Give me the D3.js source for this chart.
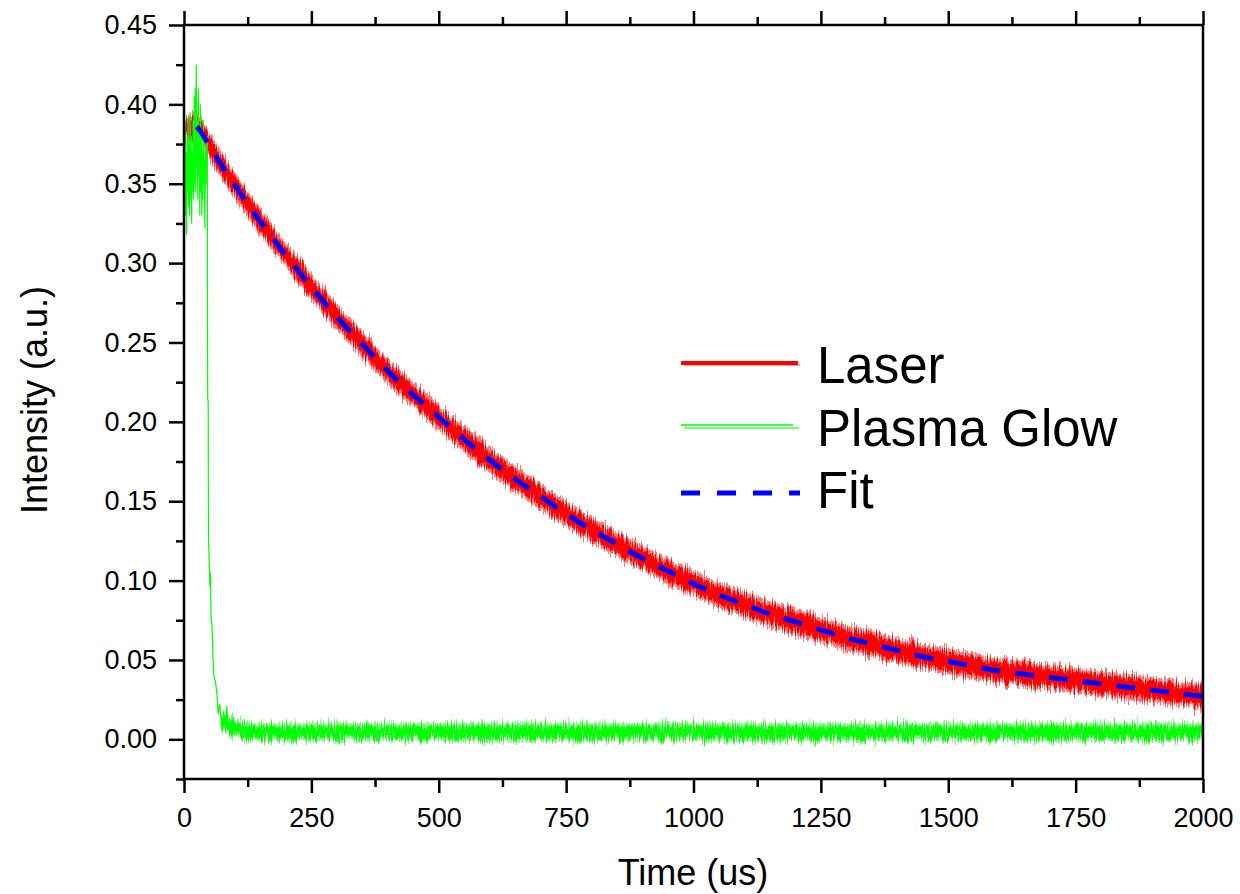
<!DOCTYPE html>
<html>
<head>
<meta charset="utf-8">
<script src="https://cdn.jsdelivr.net/npm/d3@7"></script>
<style>
  html, body { margin: 0; padding: 0; background: #fff; }
  svg { display: block; font-family: "Liberation Sans", Arial, Helvetica, sans-serif; }
</style>
</head>
<body>
<svg id="chart" width="1240" height="894"></svg>
<script>
// ---------- axis ticks ----------
const xTicks = [0, 250, 500, 750, 1000, 1250, 1500, 1750, 2000];
const xMinorTicks = [125, 375, 625, 875, 1125, 1375, 1625, 1875];
const yTicks = [0, 0.05, 0.10, 0.15, 0.20, 0.25, 0.30, 0.35, 0.40, 0.45];
const yMinorTicks = [-0.025, 0.025, 0.075, 0.125, 0.175, 0.225, 0.275, 0.325, 0.375, 0.425];

// ---------- Laser signal: centre of the noisy trace (time in us) ----------
const laserTime = [0, 10, 20, 30, 50, 75, 100, 150, 200, 250, 300, 350, 400, 450, 500,
  550, 600, 650, 700, 750, 800, 850, 900, 950, 1000, 1050, 1100, 1150, 1200, 1250,
  1300, 1350, 1400, 1450, 1500, 1550, 1600, 1650, 1700, 1750, 1800, 1850, 1900, 1950, 2000];
const laserLevel = [0.383, 0.384, 0.384, 0.384, 0.374, 0.361, 0.349, 0.326, 0.305, 0.285,
  0.266, 0.249, 0.232, 0.217, 0.203, 0.189, 0.176, 0.164, 0.153, 0.142, 0.132, 0.123,
  0.114, 0.106, 0.098, 0.091, 0.085, 0.079, 0.074, 0.069, 0.064, 0.060, 0.056, 0.052,
  0.049, 0.046, 0.043, 0.041, 0.039, 0.037, 0.035, 0.033, 0.031, 0.029, 0.027];
// noise half-width of the trace: dense core and outer spikes
const laserCoreNoise = 0.0055;
const laserPeakNoise = 0.0080;

// ---------- exponential fit ----------
const fitTime = [25, 30, 50, 75, 100, 150, 200, 250, 300, 350, 400, 450, 500,
  550, 600, 650, 700, 750, 800, 850, 900, 950, 1000, 1050, 1100, 1150, 1200, 1250,
  1300, 1350, 1400, 1450, 1500, 1550, 1600, 1650, 1700, 1750, 1800, 1850, 1900, 1950, 2000];
const fitValue = [0.386, 0.384, 0.374, 0.361, 0.349, 0.326, 0.305, 0.285,
  0.266, 0.249, 0.232, 0.217, 0.203, 0.189, 0.176, 0.164, 0.153, 0.142, 0.132, 0.123,
  0.114, 0.106, 0.098, 0.091, 0.085, 0.079, 0.074, 0.069, 0.064, 0.060, 0.056, 0.052,
  0.049, 0.046, 0.043, 0.041, 0.039, 0.037, 0.035, 0.033, 0.031, 0.029, 0.027];

// ---------- Plasma glow: early transient and collapse ----------
const plasmaTime = [0, 1, 2, 3, 4, 5, 6, 7, 8, 9, 10, 11, 12, 13, 14, 15, 16, 17, 18, 19,
  20, 21, 22, 23, 24, 25, 26, 27, 28, 29, 30, 31, 32, 33, 34, 35, 36, 37, 38, 39, 40,
  41, 42, 43, 44, 45, 45.7, 46, 46.5, 47.5, 48, 49, 51, 52, 53, 55, 57, 59, 62, 65, 67,
  70, 73, 75, 78, 80, 84, 86, 90, 95, 100];
const plasmaValue = [0.385, 0.350, 0.390, 0.330, 0.370, 0.318, 0.380, 0.345, 0.392, 0.335,
  0.375, 0.330, 0.395, 0.340, 0.380, 0.325, 0.370, 0.345, 0.390, 0.340, 0.405, 0.350,
  0.410, 0.345, 0.425, 0.360, 0.390, 0.340, 0.410, 0.355, 0.385, 0.330, 0.400, 0.345,
  0.380, 0.330, 0.370, 0.340, 0.390, 0.350, 0.365, 0.322, 0.380, 0.350, 0.372, 0.360,
  0.380, 0.300, 0.215, 0.212, 0.126, 0.118, 0.096, 0.105, 0.077, 0.072, 0.050, 0.039,
  0.036, 0.027, 0.016, 0.022, 0.012, 0.005, 0.018, 0.008, 0.021, 0.006, 0.012, 0.004, 0.009];

// ---------- Plasma glow: residual baseline after collapse ----------
const glowTime = [72, 85, 100, 120, 150, 200, 300, 400, 500, 600, 700, 800, 900, 1000,
  1100, 1200, 1300, 1400, 1500, 1600, 1700, 1800, 1900, 2000];
const glowLevel = [0.012, 0.009, 0.007, 0.0055, 0.0046, 0.0045, 0.0045, 0.0045, 0.0045,
  0.0045, 0.0045, 0.0045, 0.0045, 0.0045, 0.0045, 0.0045, 0.0045, 0.0045, 0.0045,
  0.0045, 0.0045, 0.0045, 0.0045, 0.0045];
const glowCoreNoise = 0.0036;
const glowPeakNoise = 0.0056;

// ---------- legend ----------
const legendLabels = ["Laser", "Plasma Glow", "Fit"];

// ---------- layout ----------
const svg = d3.select("#chart");
const plot = { left: 184, right: 1203, top: 25, bottom: 779 };
const font = 27;

const x = d3.scaleLinear().domain([0, 2000]).range([plot.left, plot.right]);
const y = d3.scaleLinear().domain([-0.025, 0.45]).range([plot.bottom, plot.top]);

const defs = svg.append("defs");
defs.append("clipPath").attr("id", "plotClip")
  .append("rect")
  .attr("x", plot.left).attr("y", plot.top)
  .attr("width", plot.right - plot.left).attr("height", plot.bottom - plot.top);

// vertical jitter that gives the dense traces their ragged edges
const jitter = defs.append("filter").attr("id", "jitter")
  .attr("filterUnits", "userSpaceOnUse")
  .attr("x", 150).attr("y", 0).attr("width", 1100).attr("height", 894)
  .attr("color-interpolation-filters", "sRGB");
jitter.append("feTurbulence").attr("type", "fractalNoise")
  .attr("baseFrequency", "0.9 0.04").attr("numOctaves", 2).attr("seed", 7).attr("result", "n");
jitter.append("feColorMatrix").attr("in", "n").attr("type", "matrix")
  .attr("values", "0 0 0 0 0.5  0 1 0 0 0  0 0 0 0 0  0 0 0 0 1").attr("result", "m");
jitter.append("feDisplacementMap").attr("in", "SourceGraphic").attr("in2", "m")
  .attr("scale", 20).attr("xChannelSelector", "R").attr("yChannelSelector", "G");

const data = svg.append("g").attr("clip-path", "url(#plotClip)");

const band = (half) => d3.area()
  .x(d => x(d.t))
  .y0(d => y(d.v - half))
  .y1(d => y(d.v + half))
  .curve(d3.curveMonotoneX);

// Laser trace as a noisy band
const laserRows = laserTime.map((t, i) => ({ t, v: laserLevel[i] }));
const laserG = data.append("g").attr("filter", "url(#jitter)");
laserG.append("path").datum(laserRows)
  .attr("d", band(laserPeakNoise))
  .attr("fill", "#ff0000").attr("fill-opacity", 0.55);
laserG.append("path").datum(laserRows)
  .attr("d", band(laserCoreNoise))
  .attr("fill", "#ff0000");

// Plasma glow baseline band
const glowRows = glowTime.map((t, i) => ({ t, v: glowLevel[i] }));
const glowG = data.append("g").attr("filter", "url(#jitter)");
glowG.append("path").datum(glowRows)
  .attr("d", band(glowPeakNoise))
  .attr("fill", "#00ff00").attr("fill-opacity", 0.55);
glowG.append("path").datum(glowRows)
  .attr("d", band(glowCoreNoise))
  .attr("fill", "#00ff00");

// Plasma glow transient
const plasmaRows = plasmaTime.map((t, i) => ({ t, v: plasmaValue[i] }));
data.append("path").datum(plasmaRows)
  .attr("d", d3.line().x(d => x(d.t)).y(d => y(d.v)))
  .attr("fill", "none").attr("stroke", "#00ff00").attr("stroke-width", 1.2);

// Fit curve
const fitRows = fitTime.map((t, i) => ({ t, v: fitValue[i] }));
data.append("path").datum(fitRows)
  .attr("d", d3.line().x(d => x(d.t)).y(d => y(d.v)).curve(d3.curveMonotoneX))
  .attr("fill", "none").attr("stroke", "#0000ff").attr("stroke-width", 5)
  .attr("stroke-dasharray", "19,15");

// ---------- axes ----------
function styleAxis(g) {
  g.select(".domain").remove();
  g.selectAll(".tick line").attr("stroke", "#000").attr("stroke-width", 2.5);
  g.selectAll(".tick text").attr("fill", "#000").attr("font-size", font)
    .attr("font-family", "'Liberation Sans', Arial, sans-serif");
}

// bottom
svg.append("g").attr("transform", `translate(0,${plot.bottom})`)
  .call(d3.axisBottom(x).tickValues(xTicks).tickSize(14).tickPadding(15).tickFormat(d3.format("d")))
  .call(styleAxis);
svg.append("g").attr("transform", `translate(0,${plot.bottom})`)
  .call(d3.axisBottom(x).tickValues(xMinorTicks).tickSize(8).tickFormat(""))
  .call(styleAxis);
// top
svg.append("g").attr("transform", `translate(0,${plot.top})`)
  .call(d3.axisTop(x).tickValues(xTicks).tickSize(14).tickFormat(""))
  .call(styleAxis);
svg.append("g").attr("transform", `translate(0,${plot.top})`)
  .call(d3.axisTop(x).tickValues(xMinorTicks).tickSize(8).tickFormat(""))
  .call(styleAxis);
// left
svg.append("g").attr("transform", `translate(${plot.left},0)`)
  .call(d3.axisLeft(y).tickValues(yTicks).tickSize(15).tickPadding(12).tickFormat(d3.format(".2f")))
  .call(styleAxis);
svg.append("g").attr("transform", `translate(${plot.left},0)`)
  .call(d3.axisLeft(y).tickValues(yMinorTicks).tickSize(8).tickFormat(""))
  .call(styleAxis);

// frame
svg.append("rect")
  .attr("x", plot.left).attr("y", plot.top)
  .attr("width", plot.right - plot.left).attr("height", plot.bottom - plot.top)
  .attr("fill", "none").attr("stroke", "#000").attr("stroke-width", 2.5);

// ---------- axis titles ----------
svg.append("text")
  .attr("x", 693).attr("y", 885)
  .attr("text-anchor", "middle").attr("font-size", 36).attr("fill", "#000")
  .text("Time (us)");
svg.append("text")
  .attr("transform", `translate(47,400) rotate(-90)`)
  .attr("text-anchor", "middle").attr("font-size", 36).attr("fill", "#000")
  .text("Intensity (a.u.)");

// ---------- legend ----------
const legend = svg.append("g");
const lx0 = 681, lx1 = 798, textX = 817;
const rowY = [363, 425, 493];
const baseY = [383, 446, 508];

legend.append("line").attr("x1", lx0).attr("x2", lx1).attr("y1", rowY[0]).attr("y2", rowY[0])
  .attr("stroke", "#ff0000").attr("stroke-width", 4);
legend.append("line").attr("x1", lx0 + 3).attr("x2", lx1 + 2).attr("y1", rowY[0] + 2).attr("y2", rowY[0] + 2)
  .attr("stroke", "#ff0000").attr("stroke-opacity", 0.5).attr("stroke-width", 1.5);

legend.append("line").attr("x1", lx0).attr("x2", lx1 - 5).attr("y1", rowY[1]).attr("y2", rowY[1])
  .attr("stroke", "#00ff00").attr("stroke-width", 1.6);
legend.append("line").attr("x1", lx0 + 3).attr("x2", lx1 + 1).attr("y1", rowY[1] + 3).attr("y2", rowY[1] + 3)
  .attr("stroke", "#00ff00").attr("stroke-opacity", 0.7).attr("stroke-width", 1.4);

legend.append("line").attr("x1", lx0).attr("x2", lx1 + 2).attr("y1", rowY[2]).attr("y2", rowY[2])
  .attr("stroke", "#0000ff").attr("stroke-width", 5).attr("stroke-dasharray", "19,17");

legend.selectAll("text.label").data(legendLabels).join("text")
  .attr("class", "label")
  .attr("x", textX).attr("y", (d, i) => baseY[i])
  .attr("font-size", 51).attr("fill", "#000")
  .text(d => d);
</script>
</body>
</html>
